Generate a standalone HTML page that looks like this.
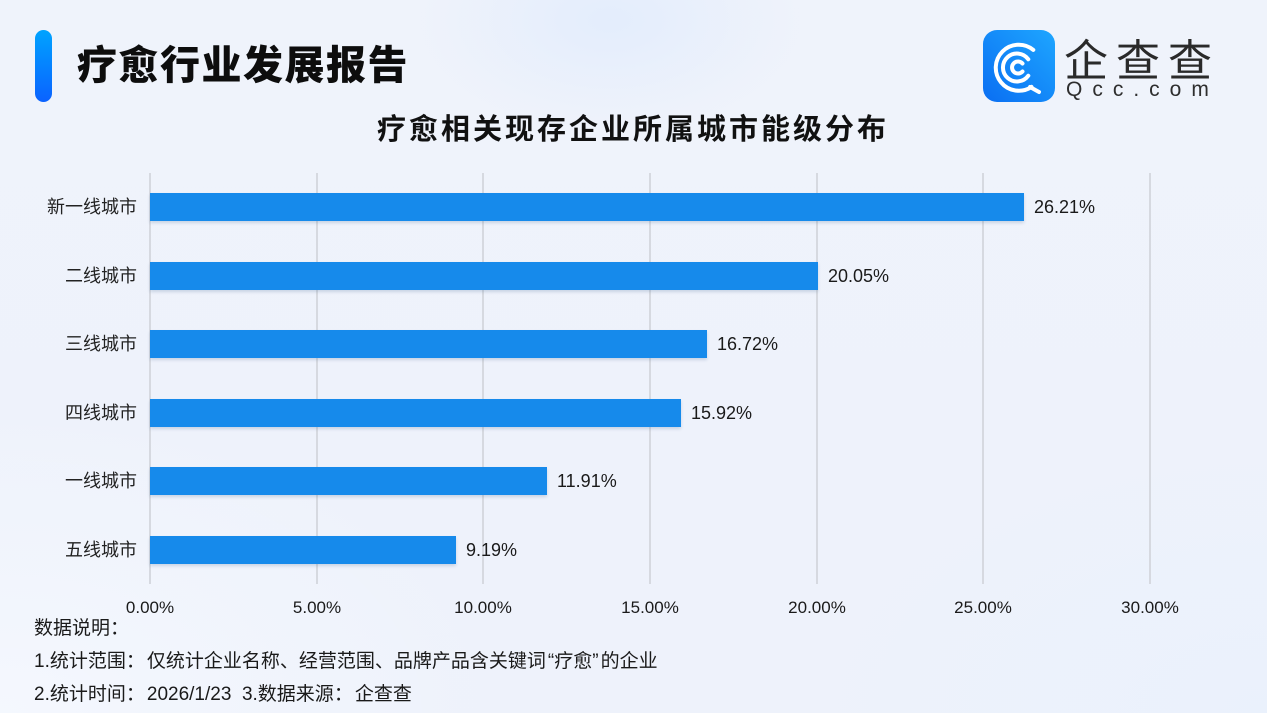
<!DOCTYPE html>
<html>
<head>
<meta charset="utf-8">
<style>
html,body{margin:0;padding:0;}
body{width:1267px;height:713px;overflow:hidden;position:relative;
  font-family:"Liberation Sans","Noto Sans CJK SC",sans-serif;color:#1a1a1a;
  background:
    radial-gradient(ellipse 190px 110px at 610px 20px, rgba(226,236,252,0.9), rgba(226,236,252,0) 100%),
    radial-gradient(ellipse 500px 300px at 0px 713px, rgba(246,249,255,0.8), rgba(246,249,255,0) 100%),
    radial-gradient(ellipse 500px 300px at 1267px 713px, rgba(234,241,252,0.9), rgba(234,241,252,0) 100%),
    linear-gradient(180deg,#eff3fb 0%,#eef2fb 100%);
}
.abs{position:absolute;}
.pill{left:35px;top:30px;width:17px;height:72px;border-radius:9px;
  background:linear-gradient(180deg,#00a3ff 0%,#0a62ff 100%);}
.title{left:77px;top:38px;height:48px;line-height:48px;font-size:40px;font-weight:900;letter-spacing:1.5px;color:#0d0d0d;white-space:nowrap;font-family:"Noto Sans CJK SC",sans-serif;}
.sub{left:377px;top:109px;height:36px;line-height:36px;font-size:29px;font-weight:700;letter-spacing:3px;color:#111;white-space:nowrap;font-family:"Noto Sans CJK SC",sans-serif;}
.logo-text{left:1064px;top:30px;height:54px;line-height:54px;font-size:44px;font-weight:400;letter-spacing:8px;color:#2a2a2a;white-space:nowrap;font-family:"Noto Sans CJK SC",sans-serif;}
.logo-url{left:1066px;top:79px;height:22px;line-height:22px;font-size:21px;letter-spacing:10px;color:#2e2e2e;white-space:nowrap;}
.grid{width:2px;top:173px;height:411px;background:#d6d9e0;}
.bar{left:150px;height:28px;background:#168aeb;box-shadow:0 2px 3px rgba(30,70,130,0.18);}
.cat{right:1130px;height:24px;line-height:24px;font-size:18px;color:#222;white-space:nowrap;text-align:right;}
.val{height:22px;line-height:22px;font-size:18px;color:#1a1a1a;white-space:nowrap;}
.tick{top:597px;height:22px;line-height:22px;font-size:17px;color:#1a1a1a;width:100px;text-align:center;}
.foot{left:34px;height:24px;line-height:24px;font-size:19px;color:#1a1a1a;white-space:nowrap;}
.c{margin-right:2px;}
.ql{margin-left:2px;}
.qr{margin-right:2px;}
</style>
</head>
<body>
<div class="abs pill"></div>
<div class="abs title">疗愈行业发展报告</div>

<svg class="abs" style="left:983px;top:30px" width="72" height="72" viewBox="0 0 72 72">
  <defs>
    <linearGradient id="lg" x1="0" y1="1" x2="1" y2="0">
      <stop offset="0" stop-color="#0a6ef2"/>
      <stop offset="1" stop-color="#1ea6ff"/>
    </linearGradient>
  </defs>
  <rect x="0" y="0" width="72" height="72" rx="14" ry="14" fill="url(#lg)"/>
  <g fill="none" stroke="#fff" stroke-width="4" stroke-linecap="round">
    <path d="M50.3 19.9 A23 23 0 1 0 48.5 56.9"/>
    <path d="M47 57 L56 62"/>
    <path d="M45.3 29.3 A14 14 0 1 0 45.3 45.7"/>
    <path d="M39.5 33.5 A6 6 0 1 0 39.5 41.5"/>
  </g>
</svg>
<div class="abs logo-text">企查查</div>
<div class="abs logo-url">Qcc.com</div>

<div class="abs sub">疗愈相关现存企业所属城市能级分布</div>

<!-- grid lines -->
<div class="abs grid" style="left:149px"></div>
<div class="abs grid" style="left:316px"></div>
<div class="abs grid" style="left:482px"></div>
<div class="abs grid" style="left:649px"></div>
<div class="abs grid" style="left:816px"></div>
<div class="abs grid" style="left:982px"></div>
<div class="abs grid" style="left:1149px"></div>

<!-- bars -->
<div class="abs bar" style="top:193px;width:874px"></div>
<div class="abs bar" style="top:262px;width:668px"></div>
<div class="abs bar" style="top:330px;width:557px"></div>
<div class="abs bar" style="top:399px;width:531px"></div>
<div class="abs bar" style="top:467px;width:397px"></div>
<div class="abs bar" style="top:536px;width:306px"></div>

<!-- category labels -->
<div class="abs cat" style="top:195px">新一线城市</div>
<div class="abs cat" style="top:264px">二线城市</div>
<div class="abs cat" style="top:332px">三线城市</div>
<div class="abs cat" style="top:401px">四线城市</div>
<div class="abs cat" style="top:469px">一线城市</div>
<div class="abs cat" style="top:538px">五线城市</div>

<!-- value labels -->
<div class="abs val" style="top:196px;left:1034px">26.21%</div>
<div class="abs val" style="top:265px;left:828px">20.05%</div>
<div class="abs val" style="top:333px;left:717px">16.72%</div>
<div class="abs val" style="top:402px;left:691px">15.92%</div>
<div class="abs val" style="top:470px;left:557px">11.91%</div>
<div class="abs val" style="top:539px;left:466px">9.19%</div>

<!-- ticks -->
<div class="abs tick" style="left:100px">0.00%</div>
<div class="abs tick" style="left:267px">5.00%</div>
<div class="abs tick" style="left:433px">10.00%</div>
<div class="abs tick" style="left:600px">15.00%</div>
<div class="abs tick" style="left:767px">20.00%</div>
<div class="abs tick" style="left:933px">25.00%</div>
<div class="abs tick" style="left:1100px">30.00%</div>

<!-- footer -->
<div class="abs foot" style="top:617px">数据说明<span class="c">：</span></div>
<div class="abs foot" style="top:650px">1.统计范围<span class="c">：</span>仅统计企业名称、经营范围、品牌产品含关键词<span class="ql">“</span>疗愈<span class="qr">”</span>的企业</div>
<div class="abs foot" style="top:683px">2.统计时间<span class="c">：</span>2026/1/23&nbsp;&nbsp;3.数据来源<span class="c">：</span>企查查</div>
</body>
</html>
